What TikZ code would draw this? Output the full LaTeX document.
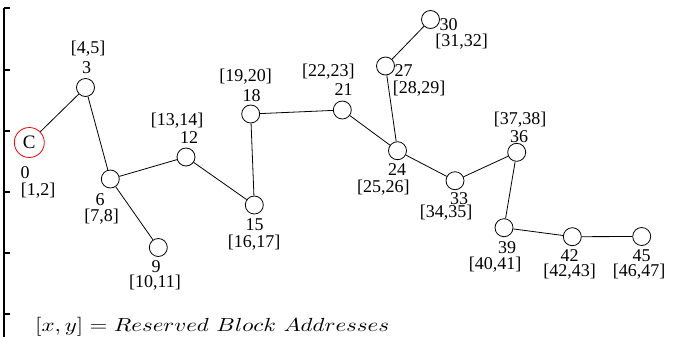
\documentclass[tikz,border=0pt]{standalone}
\usepackage{fontspec}
\newfontfamily\lblfont{Liberation Serif}
\begin{document}
\begin{tikzpicture}[x=1bp,y=-1bp,
  vtx/.style={circle,draw,minimum size=18bp,inner sep=0pt,line width=0.8bp},
  lab/.style={font=\lblfont\fontsize{18bp}{20bp}\selectfont,inner sep=0pt},
  edge/.style={line width=0.8bp},
  axisline/.style={line width=1.2bp}]
\useasboundingbox (0,0) rectangle (676,337);
% axis
\coordinate (atop) at (4,8);
\coordinate (abot) at (4,337);
\draw[axisline] (atop) -- (abot);
\foreach \ty [count=\i] in {8,70,131,192,253,314}{
  \coordinate (tk\i a) at (4,\ty);
  \coordinate (tk\i b) at (10,\ty);
  \draw[axisline] (tk\i a) -- (tk\i b);
}
% vertices
\node[vtx,draw=red,minimum size=30bp,font=\lblfont\fontsize{19bp}{20bp}\selectfont] (n0) at (29.3,142.5) {C};
\node[vtx] (n3) at (85.5,87.5) {};
\node[vtx] (n6) at (110.3,179) {};
\node[vtx] (n9) at (158.3,247.5) {};
\node[vtx] (n12) at (186,157) {};
\node[vtx] (n15) at (254.3,205) {};
\node[vtx] (n18) at (250.7,114) {};
\node[vtx] (n21) at (342.3,110) {};
\node[vtx] (n24) at (397.5,150.7) {};
\node[vtx] (n27) at (385.5,66) {};
\node[vtx] (n30) at (430.5,19.5) {};
\node[vtx] (n33) at (455,180.7) {};
\node[vtx] (n36) at (516.7,152.3) {};
\node[vtx] (n39) at (504,227.7) {};
\node[vtx] (n42) at (572.3,236.7) {};
\node[vtx] (n45) at (641.7,236.5) {};
% edges
\draw[edge] (n0) -- (n3);
\draw[edge] (n3) -- (n6);
\draw[edge] (n6) -- (n9);
\draw[edge] (n6) -- (n12);
\draw[edge] (n12) -- (n15);
\draw[edge] (n15) -- (n18);
\draw[edge] (n18) -- (n21);
\draw[edge] (n21) -- (n24);
\draw[edge] (n24) -- (n27);
\draw[edge] (n27) -- (n30);
\draw[edge] (n24) -- (n33);
\draw[edge] (n33) -- (n36);
\draw[edge] (n36) -- (n39);
\draw[edge] (n39) -- (n42);
\draw[edge] (n42) -- (n45);
% labels
\node[lab] (t0) at (25,173) {0};
\node[lab] (a0) at (38,191) {[1,2]};
\node[lab] (a3) at (88,48.5) {[4,5]};
\node[lab] (t3) at (86.7,68) {3};
\node[lab] (t6) at (100,200) {6};
\node[lab] (a6) at (101.7,217) {[7,8]};
\node[lab] (t9) at (156,266.5) {9};
\node[lab] (a9) at (155,283) {[10,11]};
\node[lab] (a12) at (177,120.5) {[13,14]};
\node[lab] (t12) at (189,138) {12};
\node[lab] (t15) at (254.5,225) {15};
\node[lab] (a15) at (254,242.5) {[16,17]};
\node[lab] (a18) at (245.5,77) {[19,20]};
\node[lab] (t18) at (251.7,95.5) {18};
\node[lab] (a21) at (328.3,71.5) {[22,23]};
\node[lab] (t21) at (343.5,89.5) {21};
\node[lab] (t24) at (397,170) {24};
\node[lab] (a24) at (383.3,187.5) {[25,26]};
\node[lab] (t27) at (403.5,70.5) {27};
\node[lab] (a27) at (419,88.5) {[28,29]};
\node[lab] (t30) at (448.5,24.5) {30};
\node[lab] (a30) at (461.5,41.5) {[31,32]};
\node[lab] (t33) at (459,199) {33};
\node[lab] (a33) at (446,213) {[34,35]};
\node[lab] (a36) at (520,119.5) {[37,38]};
\node[lab] (t36) at (519,137) {36};
\node[lab] (t39) at (507,248) {39};
\node[lab] (a39) at (495,265) {[40,41]};
\node[lab] (t42) at (569.5,255.5) {42};
\node[lab] (a42) at (569.5,272) {[42,43]};
\node[lab] (t45) at (641.5,255.5) {45};
\node[lab] (a45) at (639,272) {[46,47]};
% legend
\node[anchor=west,inner sep=0pt] (legend) at (35,327) {\scalebox{2.3}[1.9]{$[x,y] = Reserved\ Block\ Addresses$}};
\end{tikzpicture}
\end{document}
